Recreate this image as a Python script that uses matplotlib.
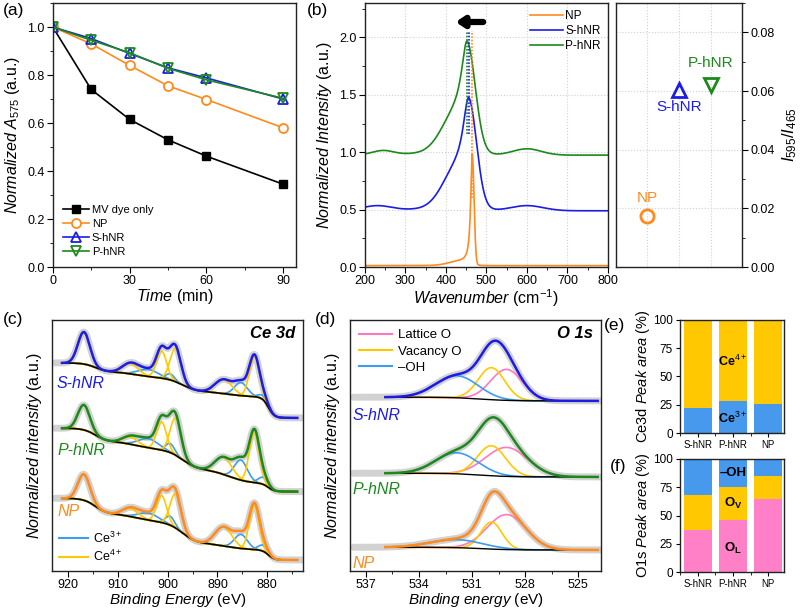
import numpy as np
import matplotlib
matplotlib.use('Agg')
import matplotlib.pyplot as plt
from matplotlib.ticker import MultipleLocator, FormatStrFormatter, NullLocator

plt.rcParams['font.family'] = ['Liberation Sans', 'DejaVu Sans']
plt.rcParams['mathtext.fontset'] = 'custom'
plt.rcParams['mathtext.rm'] = 'Liberation Sans'
plt.rcParams['mathtext.it'] = 'Liberation Sans:italic'
plt.rcParams['mathtext.bf'] = 'Liberation Sans:bold'
plt.rcParams['axes.linewidth'] = 1.0
plt.rcParams['axes.edgecolor'] = '#222222'
plt.rcParams['xtick.direction'] = 'out'
plt.rcParams['ytick.direction'] = 'out'
plt.rcParams['xtick.major.size'] = 4
plt.rcParams['ytick.major.size'] = 4
plt.rcParams['xtick.minor.size'] = 2.5
plt.rcParams['ytick.minor.size'] = 2.5
plt.rcParams['xtick.major.pad'] = 2
plt.rcParams['ytick.major.pad'] = 2
plt.rcParams['xtick.labelsize'] = 9
plt.rcParams['ytick.labelsize'] = 9

C_NP = '#ff8a1e'
C_S = '#1c1ce6'
C_P = '#1b8a1b'
C_CE3 = '#3d9cf0'
C_CE4 = '#ffc800'
C_LAT = '#ff78c0'
C_RAW = '#d2d2d2'

# ---- (a) dye degradation ----
time_min = [0, 15, 30, 45, 60, 90]
abs_mv = [1.0, 0.74, 0.615, 0.53, 0.462, 0.345]
abs_np = [1.0, 0.93, 0.84, 0.755, 0.698, 0.58]
abs_s = [1.0, 0.952, 0.89, 0.83, 0.788, 0.70]
abs_p = [1.0, 0.945, 0.893, 0.828, 0.78, 0.703]

# ---- (b) Raman: baseline, main peak (centre, height, left HWHM, right sigma), extra bumps ----
raman_names = ['NP', 'S-hNR', 'P-hNR']
raman_base = [0.012, 0.49, 0.975]
raman_peak = [(465, 0.96, 4.5, 4.5), (457, 0.80, 18, 19), (453, 0.81, 18, 20)]
raman_bumps = [[(430, 0.03, 25)],
               [(425, 0.28, 35), (230, 0.04, 35), (600, 0.045, 40)],
               [(422, 0.27, 35), (245, 0.035, 25), (600, 0.055, 35)]]
ratio_i595 = [0.0175, 0.0605, 0.062]

# ---- (c) Ce 3d fit components ----
ce4_center = [916.8, 907.5, 901.2, 898.4, 888.8, 882.6]
ce4_sigma = [1.2, 1.6, 1.0, 1.1, 1.7, 1.0]
ce3_center = [903.8, 899.5, 885.3, 880.8]
ce3_sigma = [2.0, 0.9, 1.3, 1.0]
ce4_height = {'S-hNR': [32, 10, 27, 33, 14, 40],
              'P-hNR': [25, 7, 28, 37, 17, 50],
              'NP': [26, 8, 27, 34, 19, 44]}
ce3_height = {'S-hNR': [7, 6, 13, 4],
              'P-hNR': [9, 9, 20, 7],
              'NP': [7, 9, 14, 6]}
ce_bg_center = [879.8, 887.5, 897, 906, 914.5]
ce_bg_width = [0.6, 2, 1.5, 2, 1.2]
ce_bg_base = {'S-hNR': 153, 'P-hNR': 79.3, 'NP': 11}
ce_bg_step = {'S-hNR': [21, 5, 14, 6, 9],
              'P-hNR': [8, 14, 20, 8, 13.4],
              'NP': [10, 6, 22, 8, 15.7]}

# ---- (d) O 1s fit components: lattice O, vacancy O, -OH ----
o_center = [529.05, 529.9, 531.85]
o_height = {'S-hNR': [31, 32, 22], 'P-hNR': [29, 30, 21], 'NP': [35, 27, 8]}
o_sigma = {'S-hNR': [0.9, 0.75, 1.2], 'P-hNR': [1.2, 0.8, 1.2], 'NP': [1.1, 0.6, 1.5]}
o_bg_base = {'S-hNR': 170, 'P-hNR': 94, 'NP': 21}
o_bg_step = {'S-hNR': 3.7, 'P-hNR': 3.7, 'NP': 2.7}

# ---- (e), (f) peak area fractions ----
bar_labels = ['S-hNR', 'P-hNR', 'NP']
ce3_pct = [22, 28, 25.5]
ce4_pct = [78, 72, 74.5]
ol_pct = [37, 46, 64.5]
ov_pct = [31, 29.5, 20.5]
oh_pct = [32, 24.5, 15]

sample_color = {'NP': C_NP, 'S-hNR': C_S, 'P-hNR': C_P}


def gauss(x, c, h, s):
    return h * np.exp(-0.5 * ((x - c) / s) ** 2)


def logistic_bg(x, base, centers, heights, widths):
    y = np.full_like(x, float(base))
    for c, h, w in zip(centers, heights, widths):
        y += h / (1 + np.exp(-(x - c) / w))
    return y


fig = plt.figure(figsize=(8, 6.11), dpi=100)

# ================= (a) =================
ax = fig.add_axes([0.066, 0.563, 0.304, 0.432])
ax.plot(time_min, abs_mv, '-s', color='black', mfc='black', ms=6, lw=1.2, label='MV dye only')
ax.plot(time_min, abs_np, '-o', color=C_NP, mfc='white', ms=6.5, mew=1.3, lw=1.2, label='NP')
ax.plot(time_min, abs_s, '-^', color=C_S, mfc='none', ms=7, mew=1.3, lw=1.2, label='S-hNR')
ax.plot(time_min, abs_p, '-v', color=C_P, mfc='none', ms=7, mew=1.3, lw=1.2, label='P-hNR')
ax.set_xlim(0, 95)
ax.set_ylim(0, 1.1)
ax.xaxis.set_major_locator(MultipleLocator(30))
ax.xaxis.set_minor_locator(MultipleLocator(15))
ax.yaxis.set_major_locator(MultipleLocator(0.2))
ax.yaxis.set_minor_locator(MultipleLocator(0.1))
ax.yaxis.set_major_formatter(FormatStrFormatter('%.1f'))
ax.set_xlabel(r'$\it{Time}$ (min)', fontsize=11.5, labelpad=0)
ax.set_ylabel(r'$\it{Normalized}\ A_{575}$ (a.u.)', fontsize=11.5, labelpad=4)
ax.legend(loc='lower left', bbox_to_anchor=(0.0, 0.0), frameon=False, fontsize=8,
          handlelength=2.4, handletextpad=0.2, labelspacing=0.35, borderaxespad=0.5)
fig.text(0.003, 0.982, '(a)', fontsize=12.5, va='center')

# ================= (b) Raman =================
ax = fig.add_axes([0.456, 0.563, 0.304, 0.432])
wn = np.linspace(200, 800, 1201)
for i, name in enumerate(raman_names):
    c, h, wl, sr = raman_peak[i]
    left = h / (1 + ((wn - c) / wl) ** 2)
    right = h * np.exp(-0.5 * ((wn - c) / sr) ** 2)
    y = raman_base[i] + np.where(wn < c, left, right)
    for bc, bh, bs in raman_bumps[i]:
        y = y + gauss(wn, bc, bh, bs)
    ax.plot(wn, y, color=sample_color[name], lw=1.2, label=name)
ax.vlines(raman_peak[0][0], 0.6, 2.06, color=C_NP, ls=(0, (1, 1)), lw=1.2)
ax.vlines(raman_peak[1][0], 1.16, 2.06, color=C_S, ls=(0, (1, 1)), lw=1.2)
ax.vlines(raman_peak[2][0], 1.16, 2.06, color=C_P, ls=(0, (1, 1)), lw=1.2)
ax.annotate('', xy=(424, 2.135), xytext=(492, 2.135),
            arrowprops=dict(arrowstyle='-|>,head_length=0.45,head_width=0.3',
                            color='black', lw=4.5, shrinkA=0, shrinkB=0))
ax.set_xlim(200, 800)
ax.set_ylim(0, 2.3)
ax.xaxis.set_major_locator(MultipleLocator(100))
ax.xaxis.set_minor_locator(MultipleLocator(50))
ax.yaxis.set_major_locator(MultipleLocator(0.5))
ax.yaxis.set_minor_locator(MultipleLocator(0.25))
ax.yaxis.set_major_formatter(FormatStrFormatter('%.1f'))
ax.grid(True, which='major', ls=':', color='#d0d0d0', lw=0.8)
ax.set_axisbelow(True)
ax.set_xlabel(r'$\it{Wavenumber}$ (cm$^{-1}$)', fontsize=11.5, labelpad=0)
ax.set_ylabel(r'$\it{Normalized\ Intensity}$ (a.u.)', fontsize=11.5, labelpad=4)
ax.legend(loc='upper right', frameon=False, fontsize=8.5, handlelength=2.8,
          handletextpad=0.2, labelspacing=0.25, borderaxespad=0.2)
fig.text(0.383, 0.982, '(b)', fontsize=12.5, va='center')

# ---- (b) ratio panel ----
ax = fig.add_axes([0.77, 0.563, 0.1575, 0.432])
markers = ['o', '^', 'v']
for i, name in enumerate(raman_names):
    ax.plot(i + 1, ratio_i595[i], marker=markers[i], mfc='none', mec=sample_color[name],
            mew=2, ms=9.5, ls='none')
ax.text(1, 0.0236, 'NP', color=C_NP, fontsize=11, ha='center', va='center')
ax.text(2, 0.0544, 'S-hNR', color=C_S, fontsize=11, ha='center', va='center')
ax.text(3, 0.0694, 'P-hNR', color=C_P, fontsize=11, ha='center', va='center')
ax.set_xlim(0.03, 3.97)
ax.set_ylim(0, 0.09)
ax.set_xticks([1, 2, 3])
ax.tick_params(axis='x', length=0, labelbottom=False)
ax.yaxis.tick_right()
ax.yaxis.set_label_position('right')
ax.yaxis.set_major_locator(MultipleLocator(0.02))
ax.yaxis.set_minor_locator(MultipleLocator(0.01))
ax.yaxis.set_major_formatter(FormatStrFormatter('%.2f'))
ax.tick_params(axis='y', which='both', right=True, left=False)
ax.grid(True, which='major', ls=':', color='#d0d0d0', lw=0.8)
ax.set_axisbelow(True)
ax.set_ylabel(r'$I_{595}/I_{465}$', fontsize=12, labelpad=4)

# ================= (c) Ce 3d =================
ax = fig.add_axes([0.065, 0.0655, 0.314, 0.411])
e_fit = np.linspace(874, 921.2, 900)
e_raw = np.linspace(872.5, 922.6, 900)
for name in ['S-hNR', 'P-hNR', 'NP']:
    steps = ce_bg_step[name]
    bg_fit = logistic_bg(e_fit, ce_bg_base[name], ce_bg_center, steps, ce_bg_width)
    bg_raw = logistic_bg(e_raw, ce_bg_base[name], ce_bg_center, steps, ce_bg_width)
    total_fit = bg_fit.copy()
    total_raw = bg_raw.copy()
    for c, h, s in zip(ce4_center, ce4_height[name], ce4_sigma):
        total_fit += gauss(e_fit, c, h, s)
        total_raw += gauss(e_raw, c, h, s)
    for c, h, s in zip(ce3_center, ce3_height[name], ce3_sigma):
        total_fit += gauss(e_fit, c, h, s)
        total_raw += gauss(e_raw, c, h, s)
    ax.plot(e_raw, total_raw, color=C_RAW, lw=5, solid_capstyle='round', zorder=1)
    for c, h, s in zip(ce3_center, ce3_height[name], ce3_sigma):
        ax.plot(e_fit, bg_fit + gauss(e_fit, c, h, s), color=C_CE3, lw=1.2, zorder=2)
    for c, h, s in zip(ce4_center, ce4_height[name], ce4_sigma):
        ax.plot(e_fit, bg_fit + gauss(e_fit, c, h, s), color=C_CE4, lw=1.2, zorder=2)
    ax.plot(e_fit, bg_fit, color='black', lw=1.2, zorder=3)
    ax.plot(e_fit, total_fit, color=sample_color[name], lw=1.8, zorder=4)
ax.plot([], [], color=C_CE3, lw=1.5, label='Ce$^{3+}$')
ax.plot([], [], color=C_CE4, lw=1.5, label='Ce$^{4+}$')
ax.legend(loc='lower left', frameon=False, fontsize=9, handlelength=2.3,
          handletextpad=0.4, labelspacing=0.25, borderaxespad=0.15)
ax.text(0.02, 0.745, 'S-hNR', transform=ax.transAxes, color=C_S, fontsize=11.5,
        style='italic', va='center')
ax.text(0.02, 0.48, 'P-hNR', transform=ax.transAxes, color=C_P, fontsize=11.5,
        style='italic', va='center')
ax.text(0.02, 0.235, 'NP', transform=ax.transAxes, color=C_NP, fontsize=11.5,
        style='italic', va='center')
ax.text(0.968, 0.944, 'Ce 3d', transform=ax.transAxes, fontsize=12, fontweight='bold',
        style='italic', ha='right', va='center')
ax.set_xlim(923.2, 872.8)
ax.set_ylim(0, 251)
ax.xaxis.set_major_locator(MultipleLocator(10))
ax.xaxis.set_minor_locator(MultipleLocator(5))
ax.yaxis.set_major_locator(NullLocator())
ax.set_xlabel(r'$\it{Binding\ Energy}$ (eV)', fontsize=11, labelpad=0)
ax.set_ylabel(r'$\it{Normalized\ intensity}$ (a.u.)', fontsize=11.5, labelpad=6)
fig.text(0.003, 0.477, '(c)', fontsize=12.5, va='center')

# ================= (d) O 1s =================
ax = fig.add_axes([0.4375, 0.0655, 0.314, 0.411])
e_fit = np.linspace(523.9, 535.9, 600)
e_raw = np.linspace(523.4, 537.7, 600)
comp_colors = [C_LAT, C_CE4, C_CE3]
for name in ['S-hNR', 'P-hNR', 'NP']:
    bg_fit = logistic_bg(e_fit, o_bg_base[name], [530.5], [o_bg_step[name]], [0.8])
    bg_raw = logistic_bg(e_raw, o_bg_base[name], [530.5], [o_bg_step[name]], [0.8])
    total_fit = bg_fit.copy()
    total_raw = bg_raw.copy()
    for c, h, s in zip(o_center, o_height[name], o_sigma[name]):
        total_fit += gauss(e_fit, c, h, s)
        total_raw += gauss(e_raw, c, h, s)
    ax.plot(e_raw, total_raw, color=C_RAW, lw=5, solid_capstyle='round', zorder=1)
    for k, (c, h, s) in enumerate(zip(o_center, o_height[name], o_sigma[name])):
        ax.plot(e_fit, bg_fit + gauss(e_fit, c, h, s), color=comp_colors[k], lw=1.2, zorder=2)
    ax.plot(e_fit, bg_fit, color='black', lw=1.0, zorder=3)
    ax.plot(e_fit, total_fit, color=sample_color[name], lw=1.8, zorder=4)
ax.plot([], [], color=C_LAT, lw=1.5, label='Lattice O')
ax.plot([], [], color=C_CE4, lw=1.5, label='Vacancy O')
ax.plot([], [], color=C_CE3, lw=1.5, label='\u2013OH')
ax.legend(loc='upper left', frameon=False, fontsize=9.5, handlelength=2.5,
          handletextpad=0.4, labelspacing=0.3, borderaxespad=0.3)
ax.text(0.01, 0.62, 'S-hNR', transform=ax.transAxes, color=C_S, fontsize=11.5,
        style='italic', va='center')
ax.text(0.01, 0.323, 'P-hNR', transform=ax.transAxes, color=C_P, fontsize=11.5,
        style='italic', va='center')
ax.text(0.01, 0.03, 'NP', transform=ax.transAxes, color=C_NP, fontsize=11.5,
        style='italic', va='center')
ax.text(0.968, 0.944, 'O 1s', transform=ax.transAxes, fontsize=12, fontweight='bold',
        style='italic', ha='right', va='center')
ax.set_xlim(537.9, 523.7)
ax.set_ylim(0, 251)
ax.xaxis.set_major_locator(MultipleLocator(3))
ax.xaxis.set_minor_locator(MultipleLocator(1.5))
ax.yaxis.set_major_locator(NullLocator())
ax.set_xlabel(r'$\it{Binding\ energy}$ (eV)', fontsize=11, labelpad=0)
ax.set_ylabel(r'$\it{Normalized\ intensity}$ (a.u.)', fontsize=11.5, labelpad=6)
fig.text(0.394, 0.477, '(d)', fontsize=12.5, va='center')

# ================= (e) and (f) bars =================
xpos = np.arange(1, 4)


def style_bar_axes(ax):
    ax.set_xlim(0.5, 3.45)
    ax.set_ylim(0, 100)
    ax.set_xticks(xpos)
    ax.set_xticklabels(bar_labels, fontsize=7)
    ax.xaxis.set_minor_locator(MultipleLocator(0.5))
    ax.yaxis.set_major_locator(MultipleLocator(25))
    ax.tick_params(axis='y', labelsize=8.5, length=3)
    ax.tick_params(axis='x', length=3)
    ax.tick_params(which='minor', length=2)


ax = fig.add_axes([0.85, 0.2913, 0.13, 0.185])
ax.bar(xpos, ce3_pct, width=0.8, color='#4799ee')
ax.bar(xpos, ce4_pct, width=0.8, bottom=ce3_pct, color=C_CE4)
ax.text(2, 63, 'Ce$^{4+}$', fontsize=9, fontweight='bold', ha='center', va='center')
ax.text(2, 13, 'Ce$^{3+}$', fontsize=9, fontweight='bold', ha='center', va='center')
style_bar_axes(ax)
ax.set_ylabel(r'Ce3d $\it{Peak\ area}$ (%)', fontsize=10.5, labelpad=1)
fig.text(0.755, 0.468, '(e)', fontsize=12.5, va='center')

ax = fig.add_axes([0.85, 0.0638, 0.13, 0.185])
ov_bottom = np.array(ol_pct)
oh_bottom = ov_bottom + np.array(ov_pct)
ax.bar(xpos, ol_pct, width=0.8, color='#ff80c6')
ax.bar(xpos, ov_pct, width=0.8, bottom=ov_bottom, color=C_CE4)
ax.bar(xpos, oh_pct, width=0.8, bottom=oh_bottom, color='#4799ee')
ax.text(2, 87.5, '\u2013OH', fontsize=9.5, fontweight='bold', ha='center', va='center')
ax.text(2, 61, r'$\mathbf{O_V}$', fontsize=9.5, ha='center', va='center')
ax.text(2, 21, r'$\mathbf{O_L}$', fontsize=9.5, ha='center', va='center')
style_bar_axes(ax)
ax.set_ylabel(r'O1s $\it{Peak\ area}$ (%)', fontsize=10.5, labelpad=1)
fig.text(0.762, 0.236, '(f)', fontsize=12.5, va='center')

fig.savefig('out.png', dpi=100)
